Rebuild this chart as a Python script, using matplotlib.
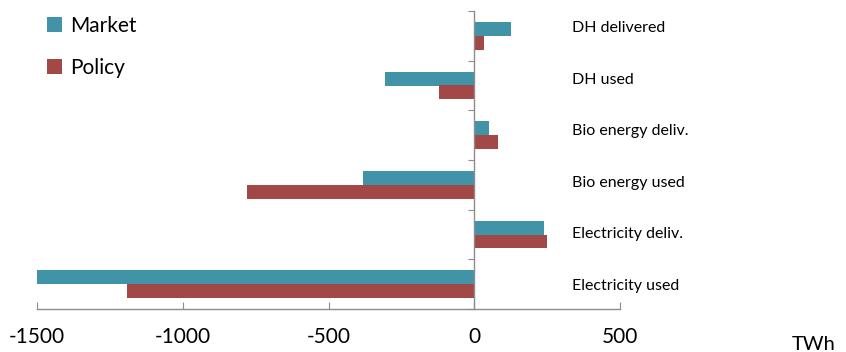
import numpy as np
import matplotlib
matplotlib.use("Agg")
import matplotlib.pyplot as plt

# energy balance per carrier, TWh (bottom to top)
categories = ["Electricity used", "Electricity deliv.", "Bio energy used",
              "Bio energy deliv.", "DH used", "DH delivered"]
market = [-1500, 240, -383, 49, -305, 125]
policy = [-1190, 250, -780, 80, -120, 34]

plt.rcParams['font.family'] = ['Lato', 'DejaVu Sans']

W, H = 846, 352
fig = plt.figure(figsize=(W / 100, H / 100), dpi=100)
ax = fig.add_axes([37 / W, 1 - 309 / H, (620 - 37) / W, (309 - 11) / H])

y = np.arange(len(categories))
h = 0.28
ax.barh(y + h / 2, market, height=h, color='#4193A8', label='Market')
ax.barh(y - h / 2, policy, height=h, color='#A24846', label='Policy')

ax.set_xlim(-1500, 500)
ax.set_ylim(-0.5, len(categories) - 0.5)

for s in ['top', 'right']:
    ax.spines[s].set_visible(False)
ax.spines['left'].set_position(('data', 0))
for s in ['left', 'bottom']:
    ax.spines[s].set_color('#8c8c8c')
    ax.spines[s].set_linewidth(1.0)

ax.set_yticks(np.arange(-0.5, len(categories), 1.0))
ax.set_yticklabels([])
ax.tick_params(axis='y', direction='out', length=4, color='#8c8c8c')
ax.set_xticks([-1500, -1000, -500, 0, 500])
ax.set_xticklabels(['-1500', '-1000', '-500', '0', '500'])
ax.tick_params(axis='x', direction='in', length=5, color='#8c8c8c',
               labelsize=15, pad=13)

# category names sit in a column right of the bars, a bit more spread out
label_y = np.linspace(286, 28, len(categories))
for name, py in zip(categories, label_y):
    fig.text(572 / W, 1 - py / H, name, va='center', ha='left', fontsize=11.5)

fig.text(792 / W, 1 - 344 / H, 'TWh', fontsize=14.5, va='center', ha='left')

leg = fig.legend(loc='upper left', bbox_to_anchor=(47 / W, 1 - 16 / H), frameon=False,
                 fontsize=15, handlelength=0.7, handleheight=0.7,
                 handletextpad=0.4, labelspacing=1.05, borderaxespad=0,
                 borderpad=0)

fig.savefig('out.png', dpi=100)
